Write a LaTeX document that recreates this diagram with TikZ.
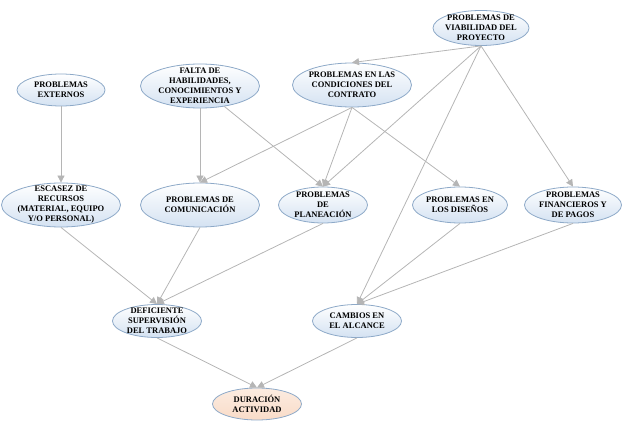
\documentclass[tikz,border=0pt]{standalone}
\usepackage{fontspec}
\setmainfont{Liberation Serif}
\usetikzlibrary{shapes.geometric,arrows.meta}
\definecolor{borde}{HTML}{8DA9C8}
\definecolor{relleno}{HTML}{D4E2F2}
\definecolor{durfondo}{HTML}{F9DCC8}
\definecolor{gris}{HTML}{B5B5B5}
\begin{document}
\begin{tikzpicture}[x=1pt,y=-1pt,
  causa/.style={ellipse,draw=borde,line width=0.8pt,top color=white,bottom color=relleno,
    inner sep=-8pt,align=center,font=\bfseries\fontsize{8.5}{10}\selectfont},
  efecto/.style={causa,top color=durfondo!55,bottom color=durfondo},
  flecha/.style={draw=gris,line width=0.8pt,-{Triangle[length=7pt,width=7pt]}}]
\useasboundingbox (0,0) rectangle (624,425);

% fila superior
\node[causa,minimum width=88pt,minimum height=32pt] (ext) at (61,90) {PROBLEMAS\\EXTERNOS};
\node[causa,minimum width=119pt,minimum height=44pt] (falta) at (200,86) {FALTA DE\\HABILIDADES,\\CONOCIMIENTOS Y\\EXPERIENCIA};
\node[causa,minimum width=119pt,minimum height=44pt] (cond) at (352,85) {PROBLEMAS EN LAS\\CONDICIONES DEL\\CONTRATO};
\node[causa,minimum width=96pt,minimum height=35pt] (viab) at (481,28) {PROBLEMAS DE\\VIABILIDAD DEL\\PROYECTO};

% fila media
\node[causa,minimum width=119pt,minimum height=44pt] (esc) at (61,205) {ESCASEZ DE\\RECURSOS\\(MATERIAL, EQUIPO\\Y/O PERSONAL)};
\node[causa,minimum width=119pt,minimum height=44pt] (com) at (200,205) {PROBLEMAS DE\\COMUNICACIÓN};
\node[causa,minimum width=89pt,minimum height=36pt] (plan) at (323,205) {PROBLEMAS\\DE\\PLANEACIÓN};
\node[causa,minimum width=95pt,minimum height=36pt] (dis) at (460,205) {PROBLEMAS EN\\LOS DISEÑOS};
\node[causa,minimum width=97pt,minimum height=36pt] (fin) at (573,205) {PROBLEMAS\\FINANCIEROS Y\\DE PAGOS};

% fila inferior
\node[causa,minimum width=89pt,minimum height=33pt] (def) at (157,321) {DEFICIENTE\\SUPERVISIÓN\\DEL TRABAJO};
\node[causa,minimum width=89pt,minimum height=33pt] (cam) at (357,321) {CAMBIOS EN\\EL ALCANCE};
\node[efecto,minimum width=89pt,minimum height=32pt] (dur) at (257,404) {DURACIÓN\\ACTIVIDAD};

% relaciones
\draw[flecha] (ext.south) -- (esc.north);
\draw[flecha] (falta.south) -- (com.north);
\draw[flecha] (falta.-40) -- (plan.north);
\draw[flecha] (cond.south) -- (com.north);
\draw[flecha] (cond.south) -- (plan.north);
\draw[flecha] (cond.south) -- (dis.north);
\draw[flecha] (viab.south) -- (cond.north);
\draw[flecha] (viab.south) -- (plan.north);
\draw[flecha] (viab.south) -- (cam.north);
\draw[flecha] (viab.south) -- (fin.north);
\draw[flecha] (esc.south) -- (def.north);
\draw[flecha] (com.south) -- (def.north);
\draw[flecha] (plan.south) -- (def.north);
\draw[flecha] (dis.south) -- (cam.north);
\draw[flecha] (fin.south) -- (cam.north);
\draw[flecha] (def.south) -- (dur.north);
\draw[flecha] (cam.south) -- (dur.north);
\end{tikzpicture}
\end{document}
